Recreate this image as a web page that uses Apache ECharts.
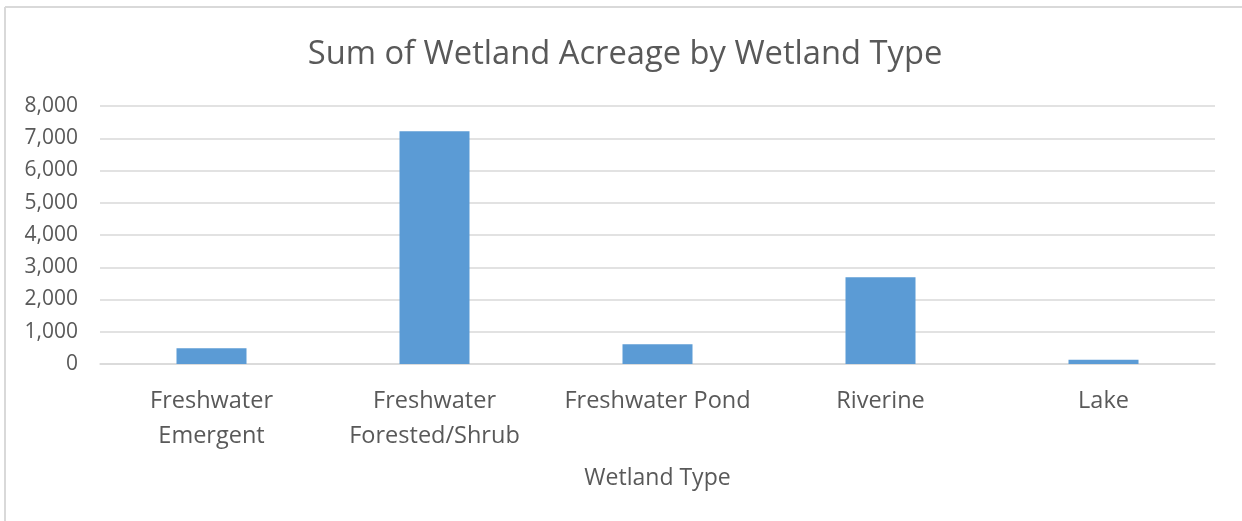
<!DOCTYPE html>
<html>
<head>
<meta charset="utf-8">
<script src="https://cdn.jsdelivr.net/npm/echarts@6/dist/echarts.min.js"></script>
<style>
  html, body { margin: 0; padding: 0; background: #fff; }
  #chart { width: 1242px; height: 521px; }
</style>
</head>
<body>
<div id="chart"></div>
<script>
const categories = ['Freshwater\nEmergent', 'Freshwater\nForested/Shrub', 'Freshwater Pond', 'Riverine', 'Lake'];
const acreage = [490, 7220, 610, 2690, 135];
const yTicks = { min: 0, max: 8000, interval: 1000 };

const textColor = '#595959';
const fontFamily = '"Open Sans", "Noto Sans", sans-serif';

const chart = echarts.init(document.getElementById('chart'));

chart.setOption({
    backgroundColor: '#fff',
    animation: false,
    textStyle: { fontFamily: fontFamily },
    // outer chart frame: only top and left edges fall inside the picture
    graphic: [
        { type: 'line', silent: true, shape: { x1: 5, y1: 7, x2: 1242, y2: 7 }, style: { stroke: '#D9D9D9', lineWidth: 2 } },
        { type: 'line', silent: true, shape: { x1: 5, y1: 7, x2: 5, y2: 521 }, style: { stroke: '#D9D9D9', lineWidth: 2 } }
    ],
    title: {
        text: 'Sum of Wetland Acreage by Wetland Type',
        left: 620,
        top: 33,
        textAlign: 'center',
        textStyle: { color: textColor, fontSize: 32.7, fontWeight: 'normal', fontFamily: fontFamily }
    },
    grid: { left: 100, right: 27, top: 106, bottom: 157 },
    xAxis: {
        type: 'category',
        data: categories,
        name: 'Wetland Type',
        nameLocation: 'middle',
        nameGap: 103,
        nameTextStyle: { color: textColor, fontSize: 23, fontFamily: fontFamily },
        axisLine: { lineStyle: { color: '#D9D9D9', width: 1.5 } },
        axisTick: { show: false },
        axisLabel: { color: textColor, fontSize: 23.5, lineHeight: 35, margin: 20, interval: 0, fontFamily: fontFamily }
    },
    yAxis: {
        type: 'value',
        min: yTicks.min,
        max: yTicks.max,
        interval: yTicks.interval,
        axisLine: { show: false },
        axisTick: { show: false },
        splitLine: { lineStyle: { color: '#D9D9D9', width: 1.5 } },
        axisLabel: {
            color: textColor, fontSize: 21, margin: 22, fontFamily: fontFamily,
            formatter: v => v.toLocaleString('en-US')
        }
    },
    series: [{
        type: 'bar',
        data: acreage,
        barWidth: 70,
        itemStyle: { color: '#5B9BD5' }
    }]
});
</script>
</body>
</html>
